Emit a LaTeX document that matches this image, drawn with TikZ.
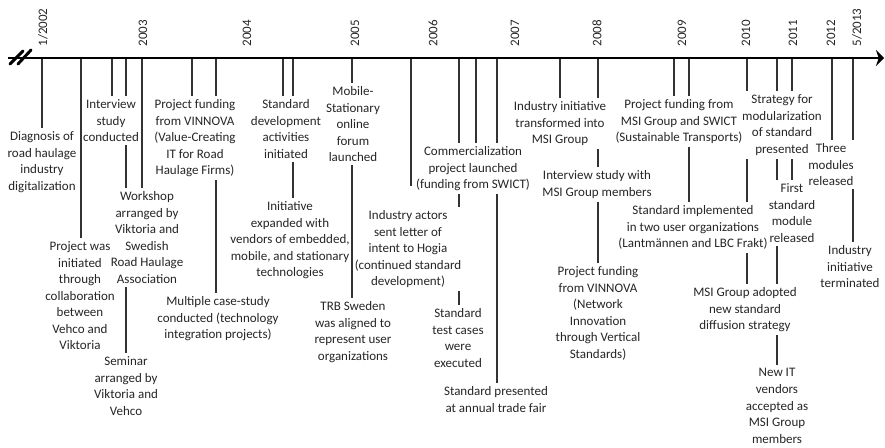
\documentclass[tikz,border=0pt]{standalone}
\usepackage{fontspec}
\setmainfont{Carlito}
\usetikzlibrary{arrows.meta,backgrounds}

\begin{document}
\begin{tikzpicture}[x=0.75pt,y=-0.75pt,
  event/.style={align=center, fill=white, inner xsep=0.5pt, inner ysep=2.5pt,
    text=black!85, anchor=north, font=\fontsize{9.75pt}{12.4pt}\selectfont},
  yearlbl/.style={rotate=90, anchor=west, inner sep=1pt, text=black!85,
    font=\fontsize{9.75pt}{12pt}\selectfont},
  tick/.style={draw=black!80, line width=0.8pt},
  axisline/.style={line width=2pt, -{Stealth[length=6pt,width=12pt,inset=2pt]}},
  breakmark/.style={line width=2.2pt, line cap=round},
]
\useasboundingbox (0,0) rectangle (885,447);

% time axis with break mark
\draw[axisline] (8,58) -- (884,58);
\draw[breakmark] (10,64) -- (23,51);
\draw[breakmark] (18,64) -- (31,50);

% year labels
\foreach \x/\yr in {43/1\slash2002, 143/2003, 247/2004, 355/2005, 433/2006,
    515/2007, 597/2008, 682/2009, 746/2010, 793/2011, 831/2012, 857/5\slash2013}
  \node[yearlbl] at (\x,48) {\yr};

% events
\node[event] (diag)  at (42,128)  {Diagnosis of\\road haulage\\industry\\digitalization};
\node[event] (semi)  at (126,353) {Seminar\\arranged by\\Viktoria and\\Vehco};
\node[event] (init)  at (80,238)  {Project was\\initiated\\through\\collaboration\\between\\Vehco and\\Viktoria};
\node[event] (intv)  at (111,96)  {Interview\\study\\conducted};
\node[event] (wksp)  at (147,188) {Workshop\\arranged by\\Viktoria and\\Swedish\\Road Haulage\\Association};
\node[event] (vinA)  at (195,96)  {Project funding\\from VINNOVA\\(Value-Creating\\IT for Road\\Haulage Firms)};
\node[event] (mcs)   at (218,293) {Multiple case-study\\conducted (technology\\integration projects)};
\node[event] (sdev)  at (286,96)  {Standard\\development\\activities\\initiated};
\node[event] (iexp)  at (290,198) {Initiative\\expanded with\\vendors of embedded,\\mobile, and stationary\\technologies};
\node[event] (mob)   at (353,83)  {Mobile-\\Stationary\\online\\forum\\launched};
\node[event] (trb)   at (353,298) {TRB Sweden\\was aligned to\\represent user\\organizations};
\node[event] (actr)  at (408,207) {Industry actors\\sent letter of\\intent to Hogia\\(continued standard\\development)};
\node[event] (test)  at (458,305) {Standard\\test cases\\were\\executed};
\node[event] (comm)  at (473,143) {Commercialization\\project launched\\(funding from SWICT)};
\node[event] (fair)  at (496,383) {Standard presented\\at annual trade fair};
\node[event] (msi)   at (560,98)  {Industry initiative\\transformed into\\MSI Group};
\node[event] (imsi)  at (597,167) {Interview study with\\MSI Group members};
\node[event] (vinB)  at (598,263) {Project funding\\from VINNOVA\\(Network\\Innovation\\through Vertical\\Standards)};
\node[event] (strat) at (782,91)  {Strategy for\\modularization\\of standard\\presented};
\node[event] (fmsi)  at (679,96)  {Project funding from\\MSI Group and SWICT\\(Sustainable Transports)};
\node[event] (impl)  at (693,202) {Standard implemented\\in two user organizations\\(Lantmännen and LBC Frakt)};
\node[event] (first) at (792,180) {First\\standard\\module\\released};
\node[event] (three) at (831,140) {Three\\modules\\released};
\node[event] (term)  at (850,242) {Industry\\initiative\\terminated};
\node[event] (adopt) at (745,284) {MSI Group adopted\\new standard\\diffusion strategy};
\node[event] (newit) at (777,365) {New IT\\vendors\\accepted as\\MSI Group\\members};

% drop lines from the axis to each event, behind the labels
\begin{scope}[on background layer]
  \foreach \x/\n in {42/diag, 81/init, 112/intv, 126/semi, 142/wksp, 192/vinA,
      216/mcs, 283/sdev, 293/iexp, 352/trb, 459/test, 476/comm, 497/fair,
      560/msi, 598/vinB, 674/fmsi, 689/impl, 747/adopt, 777/newit, 792/first,
      832/three, 853/term} {
    \coordinate (t-\n) at (\x,58);
    \draw[tick] (t-\n) -- (t-\n |- \n.north);
  }
  \coordinate (t-actr) at (411,58);
  \draw[tick, shorten >=16pt] (t-actr) -- (t-actr |- actr.north);
\end{scope}
\end{tikzpicture}
\end{document}
